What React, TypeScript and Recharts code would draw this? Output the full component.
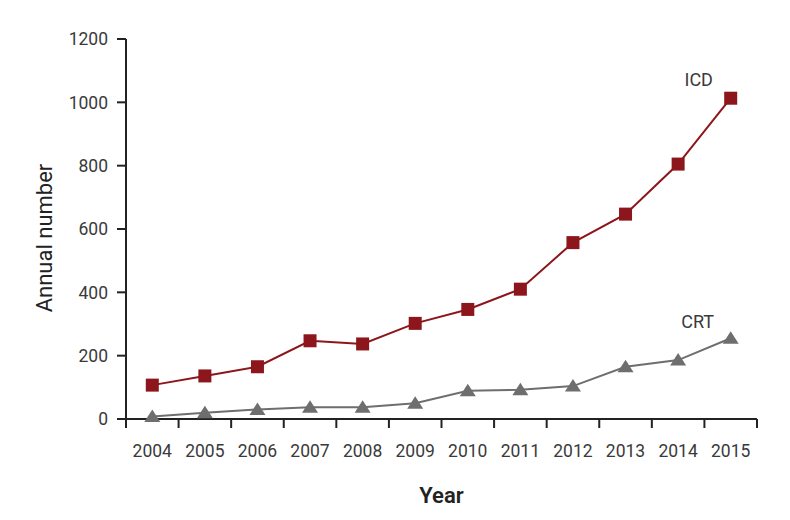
import React from 'react';
import { LineChart, Line, XAxis, YAxis, LabelList, Label } from 'recharts';

const years = ['2004', '2005', '2006', '2007', '2008', '2009', '2010', '2011', '2012', '2013', '2014', '2015'];
const icdValues = [107, 136, 165, 247, 237, 302, 346, 410, 557, 647, 805, 1013];
const crtValues = [8, 20, 30, 37, 37, 50, 89, 92, 104, 165, 186, 255];
const yTicks = [0, 200, 400, 600, 800, 1000, 1200];
const seriesNames = { icd: 'ICD', crt: 'CRT' };
const axisTitles = { x: 'Year', y: 'Annual number' };

const data = years.map((year, i) => ({ year, icd: icdValues[i], crt: crtValues[i] }));

const FONT = 'Roboto, "Liberation Sans", sans-serif';
const TEXT = '#3a3a3a';
const AXIS = '#222222';
const RED = '#8c161b';
const GRAY = '#6e6e6e';

const XTick = (props: any) => {
  const { x, y, payload, index, visibleTicksCount, width } = props;
  let half = typeof payload.offset === 'number' && payload.offset > 2 ? payload.offset : 0;
  if (!half && width && visibleTicksCount) half = width / visibleTicksCount / 2;
  return (
    <g>
      <line x1={x - half} x2={x - half} y1={y} y2={y + 9} stroke={AXIS} strokeWidth={2} />
      {index === visibleTicksCount - 1 && (
        <line x1={x + half} x2={x + half} y1={y} y2={y + 9} stroke={AXIS} strokeWidth={2} />
      )}
      <text x={x} y={y + 38} textAnchor="middle" fontFamily={FONT} fontSize={17.5} fill={TEXT}>
        {payload.value}
      </text>
    </g>
  );
};

const SquareDot = (props: any) => {
  const { cx, cy } = props;
  if (cx == null || cy == null) return null;
  return <rect x={cx - 6.5} y={cy - 6.5} width={13} height={13} fill={RED} />;
};

const TriangleDot = (props: any) => {
  const { cx, cy } = props;
  if (cx == null || cy == null) return null;
  return <polygon points={`${cx},${cy - 7} ${cx - 8},${cy + 5.5} ${cx + 8},${cy + 5.5}`} fill={GRAY} />;
};

const endLabel = (text: string, dx: number, dy: number) => (props: any) => {
  const { x, y, index } = props;
  if (index !== years.length - 1) return null;
  return (
    <text x={x + dx} y={y + dy} textAnchor="middle" fontFamily={FONT} fontSize={18} fill={TEXT}>
      {text}
    </text>
  );
};

const YTitle = (props: any) => {
  const vb = props.viewBox || { x: 0, y: 0, width: 0, height: 0 };
  const cx = vb.x + 44;
  const cy = vb.y + vb.height / 2 + 9;
  return (
    <text
      x={cx}
      y={cy}
      transform={`rotate(-90, ${cx}, ${cy})`}
      textAnchor="middle"
      dominantBaseline="central"
      fontFamily={FONT}
      fontSize={22}
      fontWeight={400}
      fill="#222"
    >
      {axisTitles.y}
    </text>
  );
};

const XTitle = (props: any) => {
  const vb = props.viewBox || { x: 0, y: 0, width: 0, height: 0 };
  const cx = vb.x + vb.width / 2;
  return (
    <text x={cx} y={vb.y + 84} textAnchor="middle" fontFamily={FONT} fontSize={22} fontWeight={600} fill="#222">
      {axisTitles.x}
    </text>
  );
};

export default function App() {
  return (
    <div style={{ position: 'absolute', left: 0, top: 0, width: 790, height: 520, background: '#fff' }}>
      <LineChart width={790} height={520} data={data} margin={{ top: 39, right: 33, left: 0, bottom: 0 }}>
        <XAxis
          dataKey="year"
          scale="band"
          height={101}
          interval={0}
          tickLine={false}
          tickSize={0}
          tickMargin={0}
          axisLine={{ stroke: AXIS, strokeWidth: 2 }}
          tick={<XTick />}
        >
          <Label content={<XTitle />} />
        </XAxis>
        <YAxis
          width={126}
          domain={[0, 1200]}
          ticks={yTicks}
          interval={0}
          tickSize={9}
          tickMargin={9}
          axisLine={{ stroke: AXIS, strokeWidth: 2 }}
          tickLine={{ stroke: AXIS, strokeWidth: 2 }}
          tick={{ fontFamily: FONT, fontSize: 17.5, fill: TEXT }}
        >
          <Label content={<YTitle />} />
        </YAxis>
        <Line
          dataKey="icd"
          stroke={RED}
          strokeWidth={2}
          dot={<SquareDot />}
          activeDot={false}
          isAnimationActive={false}
        >
          <LabelList dataKey="icd" content={endLabel(seriesNames.icd, -32, -12)} />
        </Line>
        <Line
          dataKey="crt"
          stroke={GRAY}
          strokeWidth={2}
          dot={<TriangleDot />}
          activeDot={false}
          isAnimationActive={false}
        >
          <LabelList dataKey="crt" content={endLabel(seriesNames.crt, -33, -10)} />
        </Line>
      </LineChart>
    </div>
  );
}
